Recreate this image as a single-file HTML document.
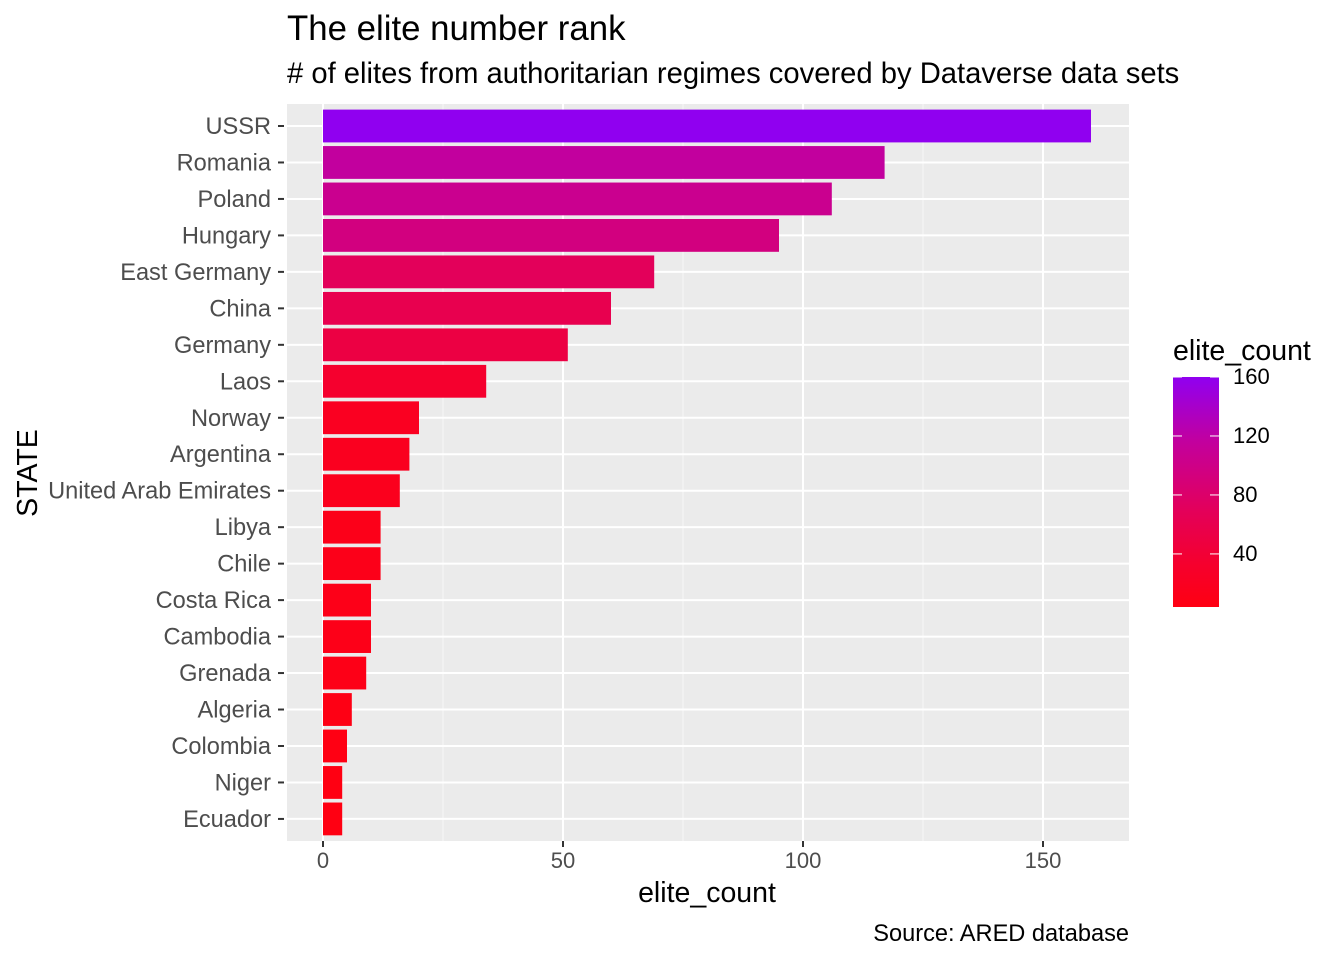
<!DOCTYPE html>
<html><head><meta charset="utf-8"><style>
body{margin:0;background:#fff;font-family:"Liberation Sans",Arial,sans-serif;}
svg text{font-family:"Liberation Sans",Arial,sans-serif;}
</style></head><body>
<svg id="chart" width="1344" height="960" xmlns="http://www.w3.org/2000/svg">
<defs><linearGradient id="lg" x1="0" y1="1" x2="0" y2="0">
<stop offset="0" stop-color="#FF0012"/><stop offset="0.19" stop-color="#F5002E"/><stop offset="0.42" stop-color="#E3005A"/><stop offset="0.58" stop-color="#D2007F"/><stop offset="0.72" stop-color="#C2009E"/><stop offset="1" stop-color="#9000F0"/>
</linearGradient></defs>
<text x="287" y="40" font-size="34.8" fill="#000">The elite number rank</text>
<text x="287" y="83" font-size="29.2" fill="#000"># of elites from authoritarian regimes covered by Dataverse data sets</text>
<rect x="287" y="104" width="842" height="737" fill="#EBEBEB"/>
<g id="grid"></g><g id="bars"></g><g id="axes"></g>
<text x="707" y="902" font-size="28.5" text-anchor="middle" fill="#000">elite_count</text>
<text transform="translate(37,473) rotate(-90)" font-size="28.5" text-anchor="middle" fill="#000">STATE</text>
<text x="1129" y="941" font-size="23.6" text-anchor="end" fill="#000">Source: ARED database</text>
<g>
<text x="1173" y="360" font-size="28.5" fill="#000">elite_count</text>
<rect x="1173" y="377" width="46" height="230" fill="url(#lg)"/>
<g id="leg"></g></g>
</svg>
<script>
const categories=["USSR","Romania","Poland","Hungary","East Germany","China","Germany","Laos","Norway","Argentina","United Arab Emirates","Libya","Chile","Costa Rica","Cambodia","Grenada","Algeria","Colombia","Niger","Ecuador"];
const values=[160,117,106,95,69,60,51,34,20,18,16,12,12,10,10,9,6,5,4,4];
const xTicks=[0,50,100,150];
const legendTicks=[40,80,120,160];
const NS="http://www.w3.org/2000/svg";
const x=v=>323+v*4.8;
const y=i=>126+i*36.47;
const ly=v=>607-(v-4)*(230/156);
const stops=[[4,[255,0,18]],[34,[245,0,46]],[69,[227,0,90]],[95,[210,0,127]],[117,[194,0,158]],[160,[144,0,240]]];
function col(v){for(let k=1;k<stops.length;k++){if(v<=stops[k][0]){const a=stops[k-1],b=stops[k],t=(v-a[0])/(b[0]-a[0]);return "rgb("+a[1].map((c,j)=>Math.round(c+(b[1][j]-c)*t)).join(",")+")";}}return "rgb(144,0,240)";}
function mk(p,tag,at){const e=document.createElementNS(NS,tag);for(const k in at)e.setAttribute(k,at[k]);p.appendChild(e);return e;}
const g=document.getElementById("grid"),b=document.getElementById("bars"),ax=document.getElementById("axes"),lg=document.getElementById("leg");
[25,75,125].forEach(v=>{const l=mk(g,"line",{x1:x(v),x2:x(v),y1:104,y2:841,stroke:"#fff","stroke-width":1,opacity:0.6});

});
xTicks.forEach(v=>{const l=mk(g,"line",{x1:x(v),x2:x(v),y1:104,y2:841,stroke:"#fff","stroke-width":2});


const t=mk(ax,"line",{x1:x(v),x2:x(v),y1:841,y2:847,stroke:"#333","stroke-width":2});


const tx=mk(ax,"text",{x:x(v),y:868,"font-size":22,"text-anchor":"middle",fill:"#4D4D4D"});tx.textContent=v;

});
categories.forEach((c,i)=>{const l=mk(g,"line",{x1:287,x2:1129,y1:y(i),y2:y(i),stroke:"#fff","stroke-width":2});


const r=mk(b,"rect",{x:x(0),y:y(i)-16.4,width:x(values[i])-x(0),height:32.8,fill:col(values[i])});


const t=mk(ax,"line",{x1:278,x2:284,y1:y(i),y2:y(i),stroke:"#333","stroke-width":2});


const tx=mk(ax,"text",{x:271,y:y(i)+8,"font-size":23.6,"text-anchor":"end",fill:"#4D4D4D"});tx.textContent=c;

});
legendTicks.forEach(v=>{mk(lg,"line",{x1:1173,x2:1182,y1:ly(v),y2:ly(v),stroke:"#fff","stroke-width":1});mk(lg,"line",{x1:1210,x2:1219,y1:ly(v),y2:ly(v),stroke:"#fff","stroke-width":1});
const tx=mk(lg,"text",{x:1233,y:ly(v)+7,"font-size":22,fill:"#000"});tx.textContent=v;

});
</script>
</body></html>
